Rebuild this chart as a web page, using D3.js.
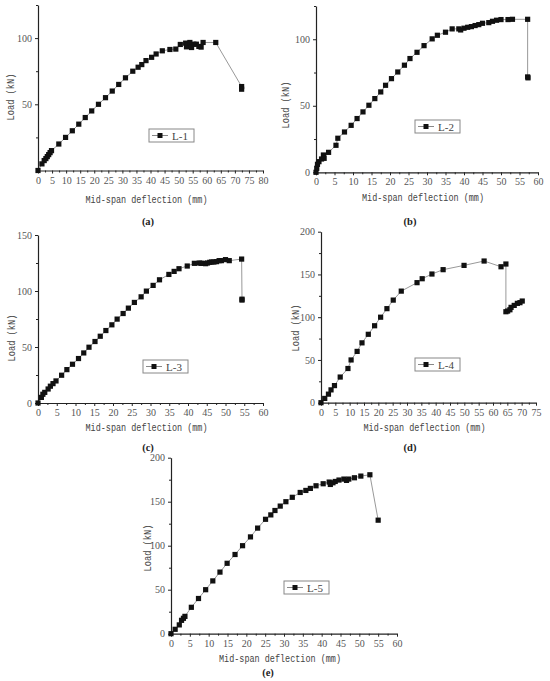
<!DOCTYPE html>
<html>
<head>
<meta charset="utf-8">
<script src="https://cdn.jsdelivr.net/npm/d3@7"></script>
<style>
  body { margin: 0; background: #fff; }
  .tick text { font-family: "Liberation Serif", serif; font-size: 10px; fill: #555; }
  .title { font-family: "Liberation Mono", monospace; font-size: 10.5px; fill: #444; }
  .cap { font-family: "Liberation Serif", serif; font-size: 10.5px; font-weight: bold; fill: #222; }
  .leg { font-family: "Liberation Serif", serif; font-size: 11px; fill: #444; }
</style>
</head>
<body>
<div id="vis"></div>
<script>
// load-deflection readings [deflection mm, load kN]
var dataL1 = [[0,0],[1.4,5],[2.2,7.5],[2.8,9],[3.3,10.5],[3.8,12],[4.3,13.5],[4.8,15],
  [7.4,20],[9.8,25],[12.2,30],[14.5,35],[16.8,40],[19.1,45],[21.5,50],[24,55],[26.4,60],
  [28.7,65],[31.1,70],[33.7,75],[35.6,78],[36.9,80],[38.4,83],[40.4,85.5],[42,88],[44.2,90.4],
  [46.9,91.4],[49,91.7],[50.6,95.2],[52.5,96.2],[52.8,93.4],[54,96.7],[54.6,92.9],[55.4,95.4],
  [56.3,95.4],[57.2,93.7],[58,93.2],[58.7,96.7],[63.2,96.7],[72.4,63.4],[72.4,61.4]];

var dataL2 = [[0,0],[0.2,3],[0.4,6],[0.8,8],[1.5,10],[2,13],[2.2,10.5],[3.4,15],[5.4,20.3],
  [5.9,25.6],[7.7,30.3],[9.5,35.3],[11.1,40.4],[12.7,45.4],[14.3,50.4],[15.9,55.4],[17.5,60.4],
  [18.8,65.4],[20.4,70.4],[22.1,75.4],[23.9,80.5],[25.4,85.5],[27.3,90.2],[29.2,95.2],
  [31.4,100.3],[32.8,103],[35,105.3],[36.8,107.8],[38.6,107.8],[39.1,107],[40,108.3],
  [41,109],[42,109.5],[43,110.3],[44,111],[45,112],[46.7,112.5],[47.7,113.5],[48.8,114.3],
  [50,114.8],[51.9,114.8],[53.1,115],[57.2,115],[57.2,71.7],[57.3,71]];

var dataL3 = [[0,0],[0.9,5],[1.3,7.8],[1.8,9.5],[2.7,12.5],[3.3,15],[4,17.3],[4.8,19.7],
  [6.3,24.8],[7.7,29.8],[9.2,34.6],[10.8,39.7],[12.2,44.7],[13.6,49.8],[15.2,54.9],[16.6,59.6],
  [18.1,64.7],[19.7,69.8],[21.1,74.9],[22.7,79.9],[24.1,84.7],[25.7,89.8],[27.5,94.8],
  [28.9,99.9],[30.7,105],[32.4,110],[34.9,114.8],[36.3,117.5],[37.6,119.9],[39.8,122.3],
  [41.7,124.7],[43,125],[43.5,124.7],[44.1,124.7],[44.7,124.4],[45.2,125],[45.8,125.6],
  [46.3,125.9],[46.9,125.9],[47.6,126.2],[48.3,127.1],[48.9,127.1],[50,128],[51,127.1],
  [54.3,128.5],[54.4,92.7],[54.4,91.9]];

var dataL4 = [[0,0],[1.3,5],[2.6,10],[3.5,15],[4.7,20],[6.7,30],[9.4,40],[10.5,50],[12.6,60],
  [14.3,70],[16.5,80],[18.7,90],[20.8,100],[23,110],[25.2,120],[28,130.5],[33.5,140.4],
  [35.3,145],[38.7,150.5],[42.6,155.6],[49.9,160.6],[56.9,165.7],[62.8,159],[64.5,162.2],
  [64.5,106.4],[65.1,107.2],[65.9,108.7],[66.3,111.5],[67.4,113.8],[68.5,116.2],[69.4,117],
  [70.2,118.9]];

var dataL5 = [[0,0],[1.1,5],[2.2,10],[2.8,15.2],[3.3,17.5],[3.7,19.7],[5.4,30],[7.3,40],
  [9.2,50],[11.1,60],[13,70],[14.9,80],[17,90],[19,100],[21.1,110],[23,120],[25.1,130],
  [26.5,135],[27.6,140],[29,145],[30.5,150],[32.2,155],[34.3,160.5],[35.8,162.8],[37,165.1],
  [38.5,168.1],[40.4,170.4],[42,172.3],[42.3,169.6],[43,171.5],[43.6,173],[44.6,174.6],
  [45.9,175.7],[46.6,174.2],[47.2,175.7],[48.7,177.2],[50.4,179.1],[52.8,180.6],[55,129]];

var seriesNames = ["L-1", "L-2", "L-3", "L-4", "L-5"];
var captions = ["(a)", "(b)", "(c)", "(d)", "(e)"];
var xMaxes = [80, 60, 60, 75, 60];
var yMaxes = [125, 125, 150, 200, 200];
var yTickSets = [[50, 100], [0, 50, 100], [0, 50, 100, 150], [0, 50, 100, 150, 200], [0, 50, 100, 150, 200]];
var allData = [dataL1, dataL2, dataL3, dataL4, dataL5];

// pixel frames for each panel: plot box, legend box, title and caption positions
var frames = [
  {x0: 38, x1: 263, y0: 170.5, y1: 5, lx: 149, ly: 129, ytx: 10, yty: 97, xty: 199, capx: 148, capy: 221},
  {x0: 316, x1: 538, y0: 172.3, y1: 6, lx: 415, ly: 120, ytx: 285, yty: 105, xty: 197, capx: 410, capy: 221},
  {x0: 38, x1: 263, y0: 403, y1: 235, lx: 143, ly: 360, ytx: 11, yty: 338, xty: 427, capx: 148, capy: 447},
  {x0: 321, x1: 536, y0: 402.7, y1: 231.7, lx: 415, ly: 358, ytx: 295, yty: 328, xty: 427, capx: 410, capy: 447},
  {x0: 171, x1: 397, y0: 633.7, y1: 457.7, lx: 284, ly: 581, ytx: 147, yty: 548, xty: 658, capx: 268, capy: 672}
];

var width = 550, height = 681;
var svg = d3.select("#vis").append("svg")
  .attr("width", width)
  .attr("height", height);

frames.forEach(function(f, i) {
  var data = allData[i];
  var x = d3.scaleLinear().domain([0, xMaxes[i]]).range([f.x0, f.x1]);
  var y = d3.scaleLinear().domain([0, yMaxes[i]]).range([f.y0, f.y1]);
  var g = svg.append("g");

  var majX = d3.range(0, xMaxes[i] + 0.1, 5);
  var minX = d3.range(2.5, xMaxes[i], 5);
  var minY = d3.range(25, yMaxes[i] + 0.1, 50);

  // minor ticks first, then major axis on top
  g.append("g")
    .attr("transform", "translate(0," + f.y0 + ")")
    .call(d3.axisBottom(x).tickValues(minX).tickSize(2).tickFormat(""))
    .call(function(s) { s.select(".domain").remove(); s.selectAll("line").attr("stroke", "#222"); });
  g.append("g")
    .attr("transform", "translate(" + f.x0 + ",0)")
    .call(d3.axisLeft(y).tickValues(minY).tickSize(2).tickFormat(""))
    .call(function(s) { s.select(".domain").remove(); s.selectAll("line").attr("stroke", "#222"); });

  var xa = g.append("g")
    .attr("transform", "translate(0," + f.y0 + ")")
    .call(d3.axisBottom(x).tickValues(majX).tickSize(3).tickSizeOuter(0).tickPadding(3));
  var ya = g.append("g")
    .attr("transform", "translate(" + f.x0 + ",0)")
    .call(d3.axisLeft(y).tickValues(yTickSets[i]).tickSize(3).tickSizeOuter(0).tickPadding(3));
  [xa, ya].forEach(function(a) {
    a.select(".domain").attr("stroke", "#222").attr("stroke-width", 1.2);
    a.selectAll(".tick line").attr("stroke", "#222");
  });

  // curve
  var line = d3.line().x(function(d) { return x(d[0]); }).y(function(d) { return y(d[1]); });
  g.append("path")
    .datum(data)
    .attr("d", line)
    .attr("fill", "none")
    .attr("stroke", "#999")
    .attr("stroke-width", 1);
  g.selectAll(".pt")
    .data(data)
    .enter()
    .append("rect")
    .attr("class", "pt")
    .attr("x", function(d) { return x(d[0]) - 2.6; })
    .attr("y", function(d) { return y(d[1]) - 2.6; })
    .attr("width", 5.2)
    .attr("height", 5.2)
    .attr("fill", "#111");

  // titles
  g.append("text").attr("class", "title")
    .attr("x", (f.x0 + f.x1) / 2 - 4).attr("y", f.xty)
    .attr("dy", "0.35em")
    .attr("text-anchor", "middle")
    .attr("textLength", 122)
    .attr("lengthAdjust", "spacingAndGlyphs")
    .text("Mid-span deflection (mm)");
  g.append("text").attr("class", "title")
    .attr("transform", "translate(" + f.ytx + "," + f.yty + ") rotate(-90)")
    .attr("dy", "0.35em")
    .attr("text-anchor", "middle")
    .attr("textLength", 47)
    .attr("lengthAdjust", "spacingAndGlyphs")
    .text("Load (kN)");
  g.append("text").attr("class", "cap")
    .attr("x", f.capx).attr("y", f.capy)
    .attr("dy", "0.35em")
    .attr("text-anchor", "middle")
    .text(captions[i]);

  // legend
  var lg = g.append("g").attr("transform", "translate(" + f.lx + "," + f.ly + ")");
  lg.append("rect").attr("width", 45).attr("height", 13)
    .attr("fill", "#fff").attr("stroke", "#888").attr("stroke-width", 1);
  lg.append("line").attr("x1", 3).attr("x2", 19).attr("y1", 6.5).attr("y2", 6.5)
    .attr("stroke", "#888");
  lg.append("rect").attr("x", 8.5).attr("y", 4).attr("width", 5).attr("height", 5).attr("fill", "#111");
  lg.append("text").attr("class", "leg").attr("x", 23).attr("y", 10.5).text(seriesNames[i]);
});
</script>
</body>
</html>
